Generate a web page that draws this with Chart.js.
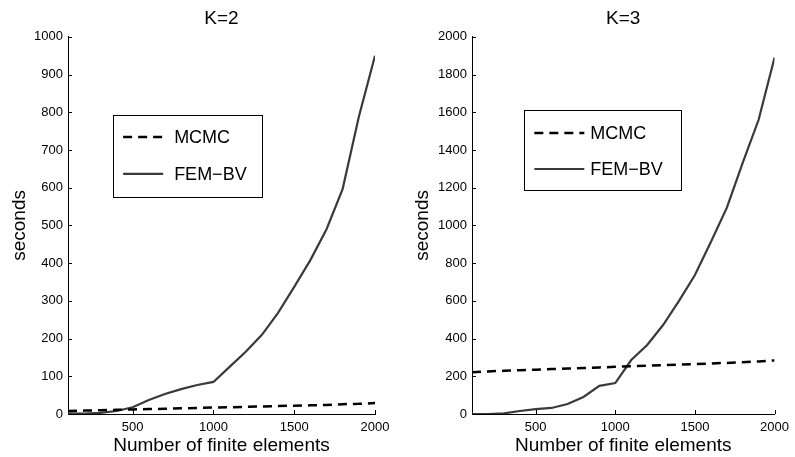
<!DOCTYPE html>
<html>
<head>
<meta charset="utf-8">
<script src="https://cdn.jsdelivr.net/npm/chart.js@4/dist/chart.umd.min.js"></script>
<style>
    body { margin: 0; background: #fff; }
    #wrap { position: relative; width: 795px; height: 457px; }
    canvas { position: absolute; top: 0; }
</style>
</head>
<body>
<div id="wrap">
    <canvas id="k2" width="397" height="457" style="left:0"></canvas>
    <canvas id="k3" width="398" height="457" style="left:397px"></canvas>
</div>
<script>
// Timings, one value per mesh size

const elements = [100, 200, 300, 400, 500, 600, 700, 800, 900, 1000,
                  1100, 1200, 1300, 1400, 1500, 1600, 1700, 1800, 1900, 2000];

const mcmcK2 = [8, 9, 10, 11, 12, 13, 14, 15, 16, 17,
                18, 19, 20, 21, 22, 23, 24, 26, 27, 29];
const femK2 = [2, 1, 3, 8, 18, 37, 53, 66, 77, 85,
               125, 165, 210, 268, 337, 408, 490, 597, 788, 950];

const mcmcK3 = [222, 226, 229, 232, 235, 238, 241, 244, 247, 250,
                253, 256, 259, 262, 265, 268, 271, 275, 279, 284];
const femK3 = [0, 0, 3, 16, 26, 32, 53, 90, 149, 164,
               286, 366, 472, 600, 737, 912, 1093, 1331, 1560, 1890];

const xTicks = [500, 1000, 1500, 2000];
const yTicksK2 = [0, 100, 200, 300, 400, 500, 600, 700, 800, 900, 1000];
const yTicksK3 = [0, 200, 400, 600, 800, 1000, 1200, 1400, 1600, 1800, 2000];

const FONT = 'Liberation Sans, Arial, Helvetica, sans-serif';

// matlab style ticks pointing into the plot
const inwardTicks = {
    id: 'inwardTicks',
    afterDraw(chart) {
        const ctx = chart.ctx;
        const area = chart.chartArea;
        const x = chart.scales.x;
        const y = chart.scales.y;
        ctx.save();
        ctx.strokeStyle = '#000';
        ctx.lineWidth = 1;
        ctx.beginPath();
        x.ticks.forEach(t => {
            const px = Math.round(x.getPixelForValue(t.value)) + 0.5;
            ctx.moveTo(px, area.bottom);
            ctx.lineTo(px, area.bottom - 4);
        });
        y.ticks.forEach(t => {
            const py = Math.round(y.getPixelForValue(t.value)) + 0.5;
            ctx.moveTo(area.left, py);
            ctx.lineTo(area.left + 4, py);
        });
        ctx.stroke();
        ctx.restore();
    }
};

// boxed legend sitting inside the plot area
const boxLegend = {
    id: 'boxLegend',
    afterDraw(chart, args, opts) {
        const ctx = chart.ctx;
        const area = chart.chartArea;
        const bx = area.left + opts.left * area.width;
        const by = area.top + opts.top * area.height;
        const bw = opts.width * area.width;
        const bh = opts.height * area.height;
        ctx.save();
        ctx.fillStyle = '#fff';
        ctx.fillRect(bx, by, bw, bh);
        ctx.strokeStyle = '#000';
        ctx.lineWidth = 1;
        ctx.strokeRect(Math.round(bx) + 0.5, Math.round(by) + 0.5, Math.round(bw), Math.round(bh));
        chart.data.datasets.forEach((ds, i) => {
            const ry = by + opts.rows[i];
            ctx.beginPath();
            ctx.strokeStyle = ds.borderColor;
            ctx.lineWidth = ds.borderWidth;
            ctx.setLineDash(ds.borderDash || []);
            ctx.moveTo(bx + 10, ry);
            ctx.lineTo(bx + 10 + opts.sample, ry);
            ctx.stroke();
            ctx.setLineDash([]);
            ctx.fillStyle = '#000';
            ctx.font = '18px ' + FONT;
            ctx.textBaseline = 'middle';
            ctx.fillText(ds.label, bx + 10 + opts.sample + opts.gap, ry + 1);
        });
        ctx.restore();
    }
};

function make_chart(id, title, mcmc, fem, yTicks, yMax, yWidth, legend) {
    const canvas = document.getElementById(id);
    const data = {
        datasets: [
            {
                label: 'MCMC',
                data: elements.map((x, i) => ({ x: x, y: mcmc[i] })),
                borderColor: '#000',
                borderWidth: 2.5,
                borderDash: [9, 6],
                pointRadius: 0,
                tension: 0
            },
            {
                label: 'FEM\u2212BV',
                data: elements.map((x, i) => ({ x: x, y: fem[i] })),
                borderColor: '#3a3a3a',
                borderWidth: 2.2,
                pointRadius: 0,
                tension: 0
            }
        ]
    };

    new Chart(canvas.getContext('2d'), {
        type: 'line',
        data: data,
        plugins: [inwardTicks, boxLegend],
        options: {
            responsive: false,
            animation: false,
            layout: { padding: { left: 0, right: legend.padRight, top: 0, bottom: 0 } },
            plugins: {
                legend: { display: false },
                tooltip: { enabled: false },
                title: {
                    display: true,
                    text: title,
                    fullSize: false,
                    color: '#000',
                    font: { family: FONT, size: 19, weight: 'normal' },
                    padding: { top: 7, bottom: 7 }
                },
                boxLegend: legend
            },
            scales: {
                x: {
                    type: 'linear',
                    min: 100,
                    max: 2000,
                    afterBuildTicks: s => { s.ticks = xTicks.map(v => ({ value: v })); },
                    afterFit: s => { s.height = 43; },
                    grid: { display: false, drawTicks: false },
                    border: { color: '#000', width: 1 },
                    ticks: {
                        color: '#000',
                        padding: 6,
                        maxRotation: 0,
                        callback: v => String(v),
                        font: { family: FONT, size: 13 }
                    },
                    title: {
                        display: true,
                        text: 'Number of finite elements',
                        color: '#000',
                        font: { family: FONT, size: 19 },
                        padding: { top: 0, bottom: 0 }
                    }
                },
                y: {
                    min: 0,
                    max: yMax,
                    afterBuildTicks: s => { s.ticks = yTicks.map(v => ({ value: v })); },
                    afterFit: s => { s.width = yWidth; },
                    grid: { display: false, drawTicks: false },
                    border: { color: '#000', width: 1 },
                    ticks: {
                        color: '#000',
                        padding: 5,
                        callback: v => String(v),
                        font: { family: FONT, size: 13 }
                    },
                    title: {
                        display: true,
                        text: 'seconds',
                        color: '#000',
                        font: { family: FONT, size: 19 },
                        padding: { top: legend.titlePad, bottom: 0 }
                    }
                }
            }
        }
    });
}

make_chart('k2', 'K=2', mcmcK2, femK2, yTicksK2, 1000, 68,
    { left: 0.147, top: 0.207, width: 0.485, height: 0.218, rows: [22, 59], sample: 40, gap: 11,
      padRight: 22, titlePad: 8 });
make_chart('k3', 'K=3', mcmcK3, femK3, yTicksK3, 2000, 75,
    { left: 0.173, top: 0.194, width: 0.518, height: 0.212, rows: [23, 59], sample: 50, gap: 6,
      padRight: 12, titlePad: 14 });
</script>
</body>
</html>
